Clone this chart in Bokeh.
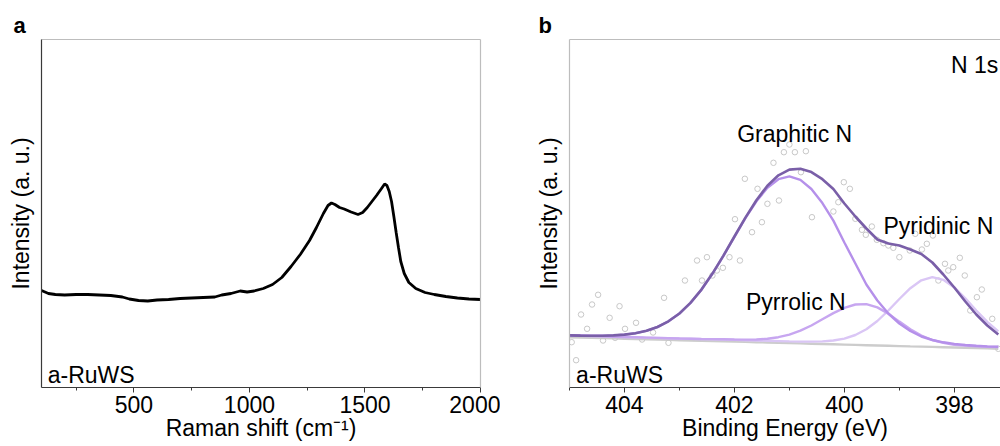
from bokeh.plotting import figure
from bokeh.models import Range1d, SingleIntervalTicker, FixedTicker, LinearAxis, Label
from bokeh.layouts import row
from bokeh.embed import file_html
from bokeh.resources import INLINE

FONT = "Liberation Sans"

# ---------------- data: panel a (Raman) ----------------
raman_shift = [100, 130, 160, 200, 250, 300, 350, 400, 450, 480, 520, 560, 600, 650, 700,
               750, 800, 850, 880, 920, 960, 990, 1020, 1060, 1100, 1140, 1180, 1220, 1260,
               1290, 1320, 1340, 1355, 1370, 1390, 1410, 1440, 1470, 1490, 1510, 1530, 1550,
               1570, 1585, 1595, 1605, 1615, 1625, 1635, 1645, 1655, 1670, 1690, 1720, 1760,
               1800, 1850, 1900, 1950, 2000]
raman_intensity = [97, 94, 93, 92.5, 93, 93, 92.5, 92, 90.5, 88.5, 87, 86.5, 87.5, 88, 89,
                   89.5, 90, 90.5, 92.5, 94, 96.5, 95.5, 96.5, 99, 103, 110, 121, 133, 147,
                   160, 174, 182, 184.5, 183, 180, 178.5, 175.5, 173, 175, 180, 186, 192,
                   198.5, 203.5, 202, 196, 186, 171, 155, 140, 126, 114, 105, 99, 95,
                   93, 91, 89.5, 88.5, 88]

# ---------------- data: panel b (XPS N 1s) ----------------
be = [405.0, 404.8, 404.6, 404.4, 404.2, 404.0, 403.8, 403.6, 403.4, 403.2,
      403.0, 402.8, 402.6, 402.4, 402.2, 402.0, 401.8, 401.6, 401.4, 401.2,
      401.0, 400.8, 400.6, 400.4, 400.2, 400.0, 399.8, 399.6, 399.4, 399.2,
      399.0, 398.8, 398.6, 398.4, 398.2, 398.0, 397.8, 397.6, 397.4, 397.2]
xps_background = [50.3, 50.0, 49.7, 49.4, 49.1, 48.8, 48.5, 48.2, 47.9, 47.6,
                  47.3, 47.0, 46.7, 46.5, 46.2, 45.9, 45.6, 45.3, 45.0, 44.7,
                  44.4, 44.1, 43.8, 43.5, 43.2, 42.9, 42.6, 42.3, 42.0, 41.7,
                  41.4, 41.1, 40.9, 40.6, 40.3, 40.0, 39.7, 39.4, 39.1, 38.8]
graphitic_n = [52.1, 51.9, 51.8, 51.8, 52.1, 52.9, 54.3, 56.7, 60.5, 66.2,
               74.0, 84.5, 97.8, 113.7, 131.6, 150.6, 169.3, 186.2, 199.7, 208.3,
               211.1, 207.7, 198.5, 184.4, 166.9, 145.0, 124.0, 103.0, 87.0, 74.0,
               64.0, 56.5, 51.0, 47.5, 45.2, 43.6, 42.5, 41.7, 41.1, 40.7]
pyrrolic_n = [52.0, 51.7, 51.4, 51.1, 50.8, 50.5, 50.2, 49.9, 49.6, 49.3,
              49.0, 48.8, 48.5, 48.4, 48.2, 48.0, 47.9, 48.0, 48.8, 50.3,
              52.9, 56.8, 62.0, 68.2, 74.4, 79.7, 83.0, 83.4, 80.1, 73.8,
              65.9, 58.2, 52.0, 47.5, 44.6, 42.8, 41.9, 41.3, 40.8, 40.5]
pyridinic_n = [52.0, 51.7, 51.4, 51.1, 50.8, 50.5, 50.2, 49.9, 49.6, 49.3,
               49.0, 48.7, 48.4, 48.2, 47.9, 47.6, 47.3, 47.0, 46.7, 46.4,
               46.1, 45.9, 45.9, 46.1, 47.0, 48.9, 52.5, 58.2, 66.5, 77.0,
               88.5, 99.3, 107.2, 110.3, 107.7, 100.1, 89.2, 77.0, 65.6, 56.2]
envelope = [52.1, 51.9, 51.8, 51.8, 52.1, 52.9, 54.3, 56.7, 60.5, 66.2,
            74.0, 84.6, 97.9, 113.9, 131.9, 151.0, 169.9, 187.2, 201.8, 212.2,
            217.9, 218.8, 215.4, 208.3, 198.5, 184.0, 171.0, 159.0, 148.0, 144.0,
            142.0, 138.0, 133.5, 125.0, 113.0, 100.0, 86.0, 73.0, 62.0, 53.0]
raw_be = [401.00, 401.10, 400.90, 400.70, 401.29, 400.79, 401.81, 401.58, 400.01, 399.90,
          401.19, 401.40, 400.11, 401.99, 400.20, 400.59, 401.50, 401.68, 399.80, 399.50,
          399.61, 399.68, 399.41, 399.29, 399.20, 399.11, 398.71, 398.39, 398.50, 399.00,
          398.59, 398.17, 398.02, 397.90, 397.81, 397.50, 397.59, 397.71, 397.31, 402.68,
          402.50, 402.09, 401.90, 402.32, 402.21, 402.40, 402.90, 402.59, 403.28, 404.48,
          404.59, 404.79, 404.09, 404.27, 403.79, 404.68, 403.99, 404.39, 403.68, 403.20,
          404.96, 404.88, 404.17, 403.48, 398.29, 398.11, 397.20, 398.81]
raw_counts = [243.0, 235.3, 235.3, 236.3, 224.7, 215.3, 208.7, 198.7, 205.3, 198.7,
              187.0, 183.7, 185.3, 168.3, 176.0, 170.3, 165.3, 155.3, 168.7, 161.0,
              152.7, 157.7, 147.7, 144.3, 142.0, 139.7, 153.7, 152.0, 143.7, 130.3,
              138.0, 123.7, 120.3, 129.7, 112.0, 98.0, 90.3, 77.0, 68.7, 127.0,
              130.3, 130.3, 127.0, 117.0, 119.7, 112.0, 107.0, 107.0, 89.7, 92.7,
              83.0, 73.0, 81.3, 69.7, 64.7, 58.7, 58.7, 47.0, 48.0, 44.7,
              45.3, 27.3, 49.7, 55.0, 107.0, 117.0, 38.7, 137.0]

DARK = "#3a3a3a"
LIGHT = "#bdbdbd"


def border_axis(p, side):
    ax = LinearAxis(ticker=FixedTicker(ticks=[]), axis_line_color=LIGHT, axis_line_width=1.2,
                    major_tick_out=0, major_tick_in=0, minor_tick_out=0, minor_tick_in=0,
                    major_label_standoff=0, axis_label=None)
    p.add_layout(ax, side)


def base_style(p, ticker, xlabel, left_color, panel_letter, letter_offset):
    p.outline_line_color = None
    p.xgrid.visible = False
    p.ygrid.visible = False
    p.title.text = panel_letter
    p.title.text_font = FONT
    p.title.text_font_size = "22px"
    p.title.text_font_style = "bold"
    p.title.text_color = "black"
    p.title.align = "left"
    p.title.offset = letter_offset
    p.title.standoff = 4
    xa = p.below[0]
    xa.ticker = ticker
    xa.axis_label = xlabel
    xa.axis_line_color = DARK
    xa.axis_line_width = 1.2
    xa.major_tick_line_color = DARK
    xa.minor_tick_line_color = DARK
    xa.major_tick_out = 5
    xa.major_tick_in = 0
    xa.minor_tick_out = 3
    xa.minor_tick_in = 0
    xa.major_label_standoff = 3
    xa.major_label_text_font = FONT
    xa.major_label_text_font_size = "23px"
    xa.major_label_text_color = "black"
    xa.axis_label_text_font = FONT
    xa.axis_label_text_font_size = "23px"
    xa.axis_label_text_font_style = "normal"
    xa.axis_label_text_color = "black"
    xa.axis_label_standoff = -1
    ya = p.left[0]
    ya.ticker = FixedTicker(ticks=[])
    ya.axis_label = "Intensity (a. u.)"
    ya.axis_line_color = left_color
    ya.axis_line_width = 1.2
    ya.major_tick_out = 0
    ya.major_tick_in = 0
    ya.minor_tick_out = 0
    ya.minor_tick_in = 0
    ya.major_label_standoff = 0
    ya.axis_label_standoff = 8
    ya.axis_label_text_font = FONT
    ya.axis_label_text_font_size = "23px"
    ya.axis_label_text_font_style = "normal"
    ya.axis_label_text_color = "black"


def add_text(p, x, y, text, align="left"):
    p.add_layout(Label(x=x, y=y, text=text, text_font=FONT, text_font_size="23px",
                       text_align=align, text_baseline="alphabetic", text_color="black"))


# ---------------- panel a ----------------
pa = figure(width=500, height=446, x_range=Range1d(100, 2000), y_range=Range1d(0, 348),
            output_backend="svg", toolbar_location=None,
            min_border_left=41, min_border_right=20, min_border_top=39, min_border_bottom=59)
base_style(pa, SingleIntervalTicker(interval=500, num_minor_ticks=2), "Raman shift (cm\u207b\u00b9)",
           DARK, "a", -28)
border_axis(pa, "above")
border_axis(pa, "right")
pa.line(raman_shift, raman_intensity, line_color="black", line_width=2.8)
add_text(pa, 127, 12.3, "a-RuWS")

# ---------------- panel b ----------------
pb = figure(width=500, height=446, x_range=Range1d(405, 397.16), y_range=Range1d(0, 348),
            output_backend="svg", toolbar_location=None,
            min_border_left=69, min_border_right=0, min_border_top=39, min_border_bottom=59)
base_style(pb, SingleIntervalTicker(interval=2, num_minor_ticks=2), "Binding Energy (eV)",
           LIGHT, "b", -31)
border_axis(pb, "above")
pb.line(be, xps_background, line_color="#cccccc", line_width=2.4)
pb.scatter(raw_be, raw_counts, marker="circle", size=5.5, fill_color=None,
           line_color="#c8c8c8", line_width=1)
pb.line(be, pyridinic_n, line_color="#dac6f5", line_width=2.4)
pb.line(be, pyrrolic_n, line_color="#c7a6f0", line_width=2.4)
pb.line(be, graphitic_n, line_color="#b590ea", line_width=2.4)
pb.line(be, envelope, line_color="#7a5fa8", line_width=2.6)
add_text(pb, 404.88, 12.3, "a-RuWS")
add_text(pb, 397.2, 323, "N 1s", align="right")
add_text(pb, 401.95, 253.7, "Graphitic N")
add_text(pb, 399.29, 162, "Pyridinic N")
add_text(pb, 401.79, 85.3, "Pyrrolic N")

layout = row(pa, pb)
open("out.html", "w").write(file_html(layout, INLINE))
